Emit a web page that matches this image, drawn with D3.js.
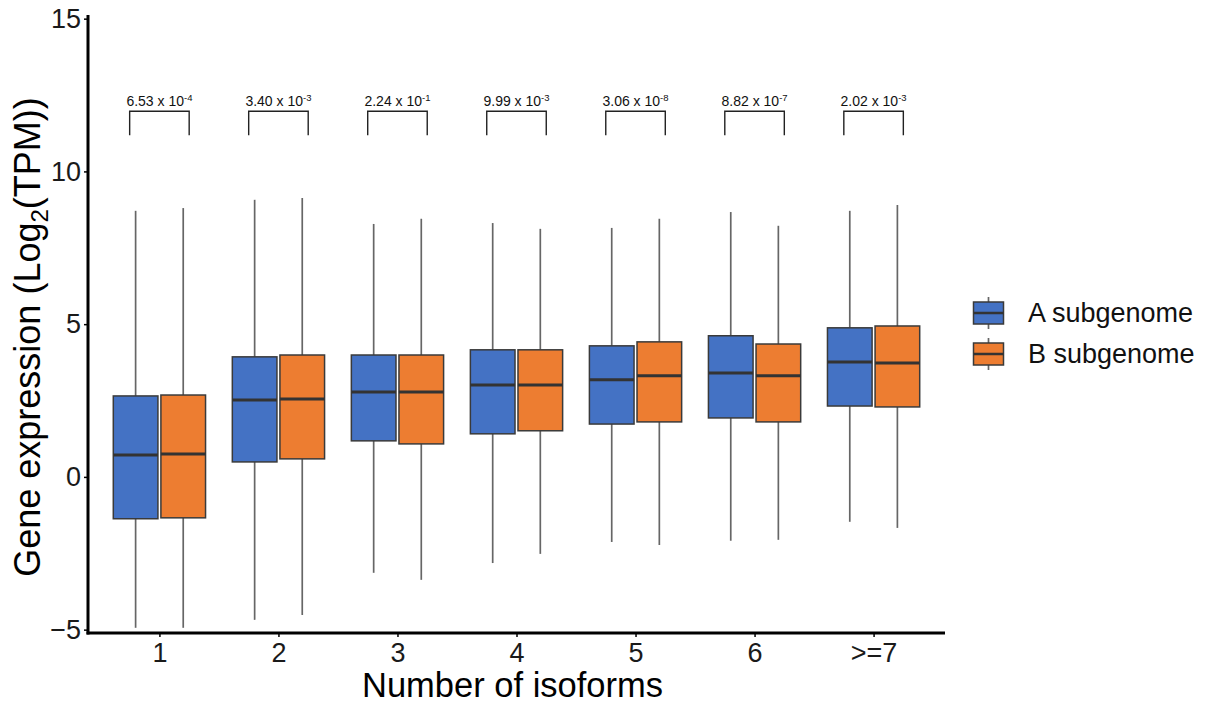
<!DOCTYPE html>
<html><head><meta charset="utf-8">
<script src="https://cdn.jsdelivr.net/npm/d3@7"></script>
<style>body{margin:0;background:#fff}svg{display:block}text{font-family:"Liberation Sans",Arial,sans-serif}</style>
</head><body><svg id="c" width="1211" height="706"></svg>
<script>
const categories = ["1","2","3","4","5","6",">=7"];
const groups = ["A subgenome","B subgenome"];
const colors = ["#4472C4","#ED7D31"];
// [whiskerLow, Q1, median, Q3, whiskerHigh]
const statsA = [
  [-4.94,-1.37,0.72,2.65,8.71],
  [-4.68,0.49,2.52,3.93,9.07],
  [-3.14,1.18,2.78,3.99,8.28],
  [-2.82,1.41,3.01,4.16,8.31],
  [-2.13,1.73,3.18,4.29,8.15],
  [-2.09,1.93,3.40,4.62,8.67],
  [-1.47,2.32,3.76,4.88,8.71]
];
const statsB = [
  [-4.94,-1.34,0.75,2.68,8.80],
  [-4.52,0.59,2.55,3.99,9.13],
  [-3.37,1.08,2.78,3.99,8.45],
  [-2.52,1.51,3.01,4.16,8.12],
  [-2.23,1.80,3.31,4.42,8.45],
  [-2.06,1.80,3.31,4.35,8.22],
  [-1.67,2.29,3.73,4.94,8.90]
];
const pMantissa = ["6.53","3.40","2.24","9.99","3.06","8.82","2.02"];
const pExponent = ["-4","-3","-1","-3","-8","-7","-3"];
const yTicks = [-5,0,5,10,15];
const bracketY = [11.97, 11.18];

(function(){
const svg = d3.select("#c");
const pL = 88, pR = 945, pT = 15, pB = 633;
const y = d3.scaleLinear().domain([-5.11, 15.12]).range([pB, pT]);
const step = (pR-pL)/7.2;
const x = d3.scalePoint().domain(categories).range([pL+0.6*step, pR-0.6*step]);
const dodge = 0.2*step, bw = 0.375*step;

const data = [];
categories.forEach((c,i)=>{
  [statsA,statsB].forEach((s,g)=>{
    data.push({c, g, s:s[i], cx: x(c) + (g===0?-dodge:dodge)});
  });
});

const gBox = svg.append("g");
data.forEach(d=>{
  const [lo,q1,med,q3,hi] = d.s;
  gBox.append("line").attr("x1",d.cx).attr("x2",d.cx).attr("y1",y(hi)).attr("y2",y(q3)).attr("stroke","#666").attr("stroke-width",1.7);
  gBox.append("line").attr("x1",d.cx).attr("x2",d.cx).attr("y1",y(q1)).attr("y2",y(lo)).attr("stroke","#666").attr("stroke-width",1.7);
  gBox.append("rect").attr("x",d.cx-bw/2).attr("width",bw).attr("y",y(q3)).attr("height",y(q1)-y(q3))
    .attr("fill",colors[d.g]).attr("stroke","#3a3a3a").attr("stroke-width",1.5);
  gBox.append("line").attr("x1",d.cx-bw/2).attr("x2",d.cx+bw/2).attr("y1",y(med)).attr("y2",y(med)).attr("stroke","#333").attr("stroke-width",3);
});

categories.forEach((c,i)=>{
  const x0 = x(c)-0.25*step, x1 = x(c)+0.25*step;
  svg.append("path").attr("d",`M${x0},${y(bracketY[1])}V${y(bracketY[0])}H${x1}V${y(bracketY[1])}`)
    .attr("fill","none").attr("stroke","#222").attr("stroke-width",1.4);
  const t = svg.append("text").attr("x",x(c)).attr("y",y(bracketY[0])-5).attr("text-anchor","middle")
    .attr("font-size",14).attr("fill","#111");
  t.append("tspan").text(pMantissa[i]+" x 10");
  t.append("tspan").attr("dy",-5).attr("font-size",9.5).text(pExponent[i]);
});

const yAxis = svg.append("g").attr("transform",`translate(${pL},0)`)
  .call(d3.axisLeft(y).tickValues(yTicks).tickSize(4).tickPadding(3).tickFormat(d=>d<0?"\u2212"+Math.abs(d):d));
yAxis.select(".domain").remove();
yAxis.selectAll("line").attr("stroke","#000").attr("stroke-width",1.5);
yAxis.selectAll("text").attr("font-size",27).attr("fill","#1a1a1a").attr("font-family","Liberation Sans, Arial");
const xAxis = svg.append("g").attr("transform",`translate(0,${pB})`)
  .call(d3.axisBottom(x).tickSize(4).tickPadding(6));
xAxis.select(".domain").remove();
xAxis.selectAll("line").attr("stroke","#000").attr("stroke-width",1.5);
xAxis.selectAll("text").attr("font-size",27).attr("fill","#1a1a1a").attr("font-family","Liberation Sans, Arial");
svg.append("line").attr("x1",pL).attr("x2",pL).attr("y1",pT).attr("y2",pB+1.5).attr("stroke","#000").attr("stroke-width",3);
svg.append("line").attr("x1",pL-1.5).attr("x2",pR).attr("y1",pB).attr("y2",pB).attr("stroke","#000").attr("stroke-width",3);

svg.append("text").attr("x",512.5).attr("y",697).attr("text-anchor","middle").attr("font-size",34.5).attr("fill","#000").text("Number of isoforms");
const yt = svg.append("text").attr("transform",`translate(40,337) rotate(-90)`).attr("text-anchor","middle").attr("font-size",36).attr("fill","#000");
yt.append("tspan").text("Gene expression (Log");
yt.append("tspan").attr("dy",8).attr("font-size",24).text("2");
yt.append("tspan").attr("dy",-8).text("(TPM))");

const lg = svg.append("g");
groups.forEach((g,i)=>{
  const cy = 313 + i*41, cx = 988.5;
  lg.append("line").attr("x1",cx).attr("x2",cx).attr("y1",cy-16).attr("y2",cy+16).attr("stroke","#666").attr("stroke-width",1.7);
  lg.append("rect").attr("x",cx-15).attr("y",cy-11).attr("width",30).attr("height",22).attr("fill",colors[i]).attr("stroke","#3a3a3a").attr("stroke-width",1.5);
  lg.append("line").attr("x1",cx-15).attr("x2",cx+15).attr("y1",cy).attr("y2",cy).attr("stroke","#333").attr("stroke-width",2.5);
  lg.append("text").attr("x",1028).attr("y",cy+9).attr("font-size",27).attr("fill","#111").text(g);
});
})();
</script></body></html>
